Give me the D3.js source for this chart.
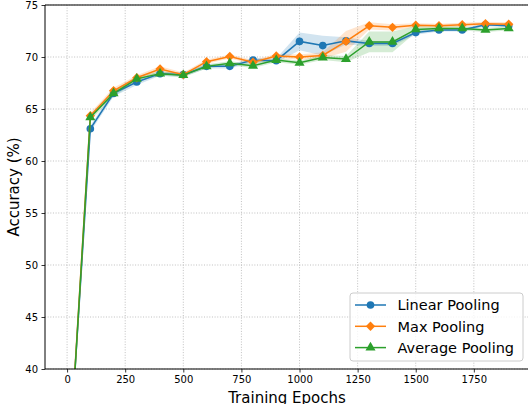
<!DOCTYPE html>
<html>
<head>
<meta charset="utf-8">
<script src="https://cdn.jsdelivr.net/npm/d3@7"></script>
<style>
  html, body { margin: 0; padding: 0; background: #fff; }
  svg { display: block; font-family: "DejaVu Sans", sans-serif; }
</style>
</head>
<body>
<svg id="chart" width="528" height="404"></svg>
<script>
// Training epochs at which accuracy was recorded
const epochs = [0, 100, 200, 300, 400, 500, 600, 700, 800, 900, 1000,
                1100, 1200, 1300, 1400, 1500, 1600, 1700, 1800, 1900];

// Mean accuracy (%) for each pooling strategy
const linearMean  = [27.9, 63.1, 66.5, 67.6, 68.4, 68.3, 69.1, 69.1, 69.7, 69.65, 71.5,
                     71.1, 71.55, 71.3, 71.3, 72.35, 72.6, 72.6, 73.1, 73.0];
const maxMean     = [27.5, 64.35, 66.75, 68.0, 68.85, 68.3, 69.55, 70.05, 69.5, 70.1, 70.0,
                     70.15, 71.5, 73.0, 72.85, 73.05, 73.0, 73.1, 73.2, 73.15];
const avgMean     = [27.3, 64.2, 66.5, 67.9, 68.4, 68.25, 69.1, 69.4, 69.15, 69.7, 69.45,
                     69.95, 69.8, 71.45, 71.45, 72.65, 72.75, 72.75, 72.6, 72.75];

// Spread (one standard deviation) around each mean
const linearStd = [0.3, 0.3, 0.3, 0.3, 0.2, 0.2, 0.2, 0.2, 0.2, 0.2, 0.85,
                   0.95, 0.35, 0.25, 0.25, 0.2, 0.15, 0.15, 0.15, 0.15];
const maxStd    = [0.3, 0.3, 0.3, 0.25, 0.25, 0.2, 0.2, 0.2, 0.2, 0.2, 0.25,
                   0.3, 1.0, 0.35, 0.3, 0.2, 0.2, 0.2, 0.2, 0.2];
const avgStd    = [0.3, 0.3, 0.3, 0.25, 0.2, 0.2, 0.2, 0.2, 0.2, 0.2, 0.2,
                   0.25, 0.3, 1.0, 1.0, 0.3, 0.2, 0.2, 0.2, 0.2];

const seriesNames = ["Linear Pooling", "Max Pooling", "Average Pooling"];
const xTicks = [0, 250, 500, 750, 1000, 1250, 1500, 1750];
const yTicks = [40, 45, 50, 55, 60, 65, 70, 75];

const series = [
  { name: seriesNames[0], mean: linearMean, std: linearStd, color: "#1f77b4", marker: "circle" },
  { name: seriesNames[1], mean: maxMean,    std: maxStd,    color: "#ff7f0e", marker: "diamond" },
  { name: seriesNames[2], mean: avgMean,    std: avgStd,    color: "#2ca02c", marker: "triangle" }
];

const W = 528, H = 404;
const margin = { top: 5, right: 0, bottom: 35, left: 45 };
const svg = d3.select("#chart");

const x = d3.scaleLinear().domain([-95, 1983]).range([margin.left, W - margin.right]);
const y = d3.scaleLinear().domain([40, 75]).range([H - margin.bottom, margin.top]);

svg.append("defs").append("clipPath").attr("id", "plot-clip")
  .append("rect")
  .attr("x", margin.left).attr("y", margin.top)
  .attr("width", W - margin.right - margin.left)
  .attr("height", H - margin.bottom - margin.top);

// Dotted grid
const grid = svg.append("g").attr("stroke", "#b0b0b0").attr("stroke-width", 0.8)
  .attr("stroke-dasharray", "1,1.65");
xTicks.forEach(t => grid.append("line")
  .attr("x1", x(t)).attr("x2", x(t)).attr("y1", y(40)).attr("y2", y(75)));
yTicks.forEach(t => grid.append("line")
  .attr("x1", margin.left).attr("x2", W - margin.right).attr("y1", y(t)).attr("y2", y(t)));

const plot = svg.append("g").attr("clip-path", "url(#plot-clip)");

// Shaded spread bands
series.forEach(s => {
  const area = d3.area()
    .x((d, i) => x(epochs[i]))
    .y0((d, i) => y(s.mean[i] - s.std[i]))
    .y1((d, i) => y(s.mean[i] + s.std[i]));
  plot.append("path").datum(s.mean)
    .attr("d", area).attr("fill", s.color).attr("fill-opacity", 0.2);
});

// Marker shapes: circle, square diamond, upward triangle
const squareDiamond = {
  draw(ctx, size) {
    const r = Math.sqrt(size / 2);
    ctx.moveTo(0, -r); ctx.lineTo(r, 0); ctx.lineTo(0, r); ctx.lineTo(-r, 0); ctx.closePath();
  }
};
const symbolFor = {
  circle: d3.symbol().type(d3.symbolCircle).size(46),
  diamond: d3.symbol().type(squareDiamond).size(44),
  triangle: d3.symbol().type(d3.symbolTriangle).size(44)
};

// Mean lines and markers
series.forEach(s => {
  const line = d3.line().x((d, i) => x(epochs[i])).y(d => y(d));
  plot.append("path").datum(s.mean)
    .attr("d", line).attr("fill", "none")
    .attr("stroke", s.color).attr("stroke-width", 1.5);
  plot.selectAll(null).data(s.mean).enter().append("path")
    .attr("d", symbolFor[s.marker])
    .attr("transform", (d, i) => `translate(${x(epochs[i])},${y(d)})`)
    .attr("fill", s.color);
});

// Axes
const xAxis = svg.append("g").attr("transform", `translate(0,${y(40)})`)
  .call(d3.axisBottom(x).tickValues(xTicks).tickSize(3.5).tickPadding(3.5).tickFormat(d3.format("d")));
const yAxis = svg.append("g").attr("transform", `translate(${margin.left},0)`)
  .call(d3.axisLeft(y).tickValues(yTicks).tickSize(3.5).tickPadding(3.5).tickFormat(d3.format("d")));
[xAxis, yAxis].forEach(a => {
  a.select(".domain").remove();
  a.selectAll("text").attr("font-size", 10).attr("font-family", "DejaVu Sans").attr("fill", "#000");
  a.selectAll("line").attr("stroke", "#000").attr("stroke-width", 0.8);
});

// Spines
const spines = svg.append("g").attr("stroke", "#000").attr("stroke-width", 1);
spines.append("line").attr("x1", margin.left).attr("x2", margin.left).attr("y1", y(75)).attr("y2", y(40));
spines.append("line").attr("x1", margin.left).attr("x2", W).attr("y1", y(40)).attr("y2", y(40));
spines.append("line").attr("x1", margin.left).attr("x2", W).attr("y1", y(75)).attr("y2", y(75));

// Axis titles
svg.append("text").attr("x", 287).attr("y", 403)
  .attr("text-anchor", "middle").attr("font-size", 15).text("Training Epochs");
svg.append("text")
  .attr("transform", `translate(19,${(y(40) + y(75)) / 2}) rotate(-90)`)
  .attr("text-anchor", "middle").attr("font-size", 15).text("Accuracy (%)");

// Legend
const lg = svg.append("g").attr("transform", "translate(350,293)");
lg.append("rect").attr("width", 173).attr("height", 68).attr("rx", 3)
  .attr("fill", "#fff").attr("fill-opacity", 0.8).attr("stroke", "#ccc").attr("stroke-width", 1);
series.forEach((s, i) => {
  const row = lg.append("g").attr("transform", `translate(0,${12 + i * 21.3})`);
  row.append("line").attr("x1", 5).attr("x2", 36).attr("y1", 0).attr("y2", 0)
    .attr("stroke", s.color).attr("stroke-width", 1.5);
  row.append("path").attr("d", symbolFor[s.marker])
    .attr("transform", "translate(20.5,0)")
    .attr("fill", s.color);
  row.append("text").attr("x", 47.5).attr("y", 5.2).attr("font-size", 14.5).text(s.name);
});
</script>
</body>
</html>
